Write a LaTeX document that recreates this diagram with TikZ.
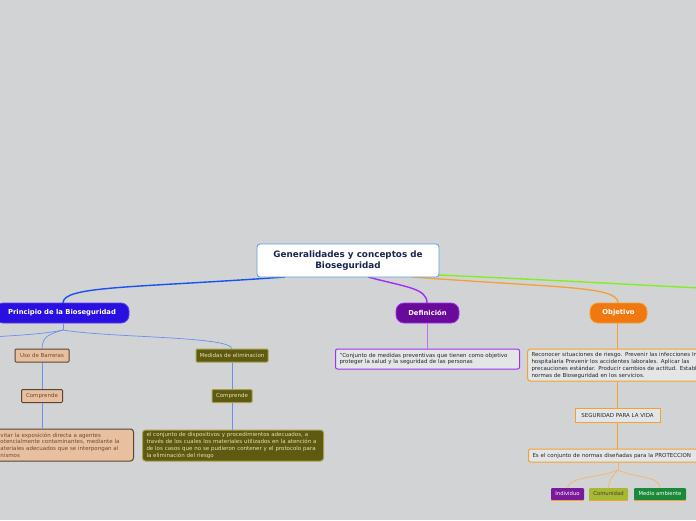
\documentclass[tikz,border=0pt]{standalone}
\usepackage{fontspec}
\setmainfont{DejaVu Sans}
\definecolor{bg}{HTML}{D2D3D5}
\definecolor{rootb}{HTML}{5A9BE0}
\definecolor{roott}{HTML}{1B2550}
\definecolor{princ}{HTML}{2A10E0}
\definecolor{defc}{HTML}{6A0A9A}
\definecolor{defb}{HTML}{A030F0}
\definecolor{objc}{HTML}{F07810}
\definecolor{objb}{HTML}{F5A030}
\definecolor{peach}{HTML}{E8C0A0}
\definecolor{peachb}{HTML}{5A4535}
\definecolor{peacht}{HTML}{6A4A35}
\definecolor{olive}{HTML}{5E5A12}
\definecolor{oliveb}{HTML}{A8A048}
\definecolor{olivet}{HTML}{E8E0B0}
\definecolor{bluel}{HTML}{1A50F0}
\definecolor{bluet}{HTML}{6A8FF0}
\definecolor{greenl}{HTML}{80F020}
\definecolor{indiv}{HTML}{7A1A9A}
\definecolor{comun}{HTML}{A8B830}
\definecolor{medio}{HTML}{1A8A3A}
\tikzset{
  rootbox/.style={draw=rootb, fill=white, line width=0.8pt, rounded corners=3pt, minimum width=182pt, minimum height=33pt, align=center, text=roott, font=\bfseries\fontsize{8.8}{10.5}\selectfont, inner sep=0pt},
  mainbox/.style={rounded corners=8pt, minimum height=20pt, text=white, font=\bfseries\fontsize{6.8}{8}\selectfont, inner sep=0pt, line width=0.8pt},
  smallbox/.style={minimum height=13pt, inner sep=0pt, rounded corners=1pt, line width=1pt, font=\fontsize{5.5}{6.5}\selectfont},
  peachbox/.style={fill=peach, draw=peachb, text=peacht},
  olivebox/.style={fill=olive, draw=oliveb, text=olivet},
  bigtext/.style={align=left, inner xsep=4pt, inner ysep=0pt, font=\fontsize{5.5}{6.7}\selectfont, line width=1pt},
  tagbox/.style={minimum height=12pt, inner sep=0pt, rounded corners=1pt, font=\fontsize{5.3}{6}\selectfont},
}
\begin{document}
\begin{tikzpicture}[x=1pt,y=-1pt]
\useasboundingbox (0,0) rectangle (696,520);
\fill[bg] (0,0) rectangle (696,520);

% connectors from root
\coordinate (rb1) at (285,277);
\coordinate (rb2) at (368,277);
\coordinate (rb3) at (412,277);
\coordinate (rb4) at (439,275);
\coordinate (gout) at (700,288);
\draw[bluel, line width=1.4pt] (rb1) .. controls (130,288) and (63,286) .. (63,303);
\draw[defb, line width=1.4pt] (rb2) .. controls (405,287) and (427,288) .. (427,303);
\draw[objb, line width=1.3pt] (rb3) .. controls (560,288) and (618,286) .. (618,303);
\draw[greenl, line width=1.4pt] (rb4) .. controls (550,280) and (640,285) .. (gout);

% root
\node[rootbox] (root) at (348,260.5) {Generalidades y conceptos de\\Bioseguridad};

% main branches
\node[mainbox, fill=princ, draw=princ!80!white, minimum width=134pt] (princ) at (62,313) {Principio de la Bioseguridad};
\node[mainbox, fill=defc, draw=defb, minimum width=63pt] (def) at (427.5,313) {Definición};
\node[mainbox, fill=objc, draw=objb, minimum width=57pt] (obj) at (618.5,313) {Objetivo};

% principio children connectors
\coordinate (pj) at (63,330);
\coordinate (pleft) at (-5,337);
\draw[bluet, line width=0.7pt] (princ.south -| pj) -- (pj);
\draw[bluet, line width=0.7pt] (pj) .. controls (40,335) and (0,336) .. (pleft);
\draw[bluet, line width=0.7pt] (pj) .. controls (50,334) and (42,336) .. (42,349);
\draw[bluet, line width=0.7pt] (pj) .. controls (110,338) and (232,336) .. (232,349);

\node[smallbox, peachbox, minimum width=54pt] (uso) at (42,355.5) {Uso de Barreras};
\node[smallbox, peachbox, minimum width=41pt] (comp1) at (42,396) {Comprende};
\node[bigtext, peachbox, rounded corners=3pt, text width=129pt, minimum height=32pt, anchor=east] (evit) at (134,445)
  {vitar la exposición directa a agentes\\otencialmente contaminantes, mediante la\\ateriales adecuados que se interpongan al\\nismos};

\node[smallbox, olivebox, minimum width=72pt] (med) at (232,355.5) {Medidas de eliminacion};
\node[smallbox, olivebox, minimum width=40pt] (comp2) at (232,396) {Comprende};
\node[bigtext, olivebox, rounded corners=3pt, text width=173pt, minimum height=31pt, anchor=west] (conj) at (142,445.5)
  {el conjunto de dispositivos y procedimientos adecuados, a\\través de los cuales los materiales utilizados en la atención a\\de los casos que no se pudieron contener y el protocolo para\\la eliminación del riesgo};

\draw[bluet, line width=0.7pt] (uso) -- (comp1);
\draw[bluet, line width=0.7pt] (comp1) -- (comp1 |- evit.north);
\draw[bluet, line width=0.7pt] (med) -- (comp2);
\draw[bluet, line width=0.7pt] (comp2) -- (conj.north -| comp2);

% definicion child
\node[bigtext, draw=defb, fill=bg!60!white, rounded corners=2pt, text width=176pt, minimum height=20pt, anchor=west, text=black!85] (defch) at (335,359)
  {"Conjunto de medidas preventivas que tienen como objetivo\\proteger la salud y la seguridad de las personas};
\draw[defb!70!white, line width=0.7pt] (def) -- (def |- defch.north);

% objetivo children
\node[bigtext, draw=objb, fill=bg!60!white, rounded corners=3pt, text width=210pt, minimum height=32pt, anchor=west, text=black!85, font=\fontsize{5.5}{7}\selectfont] (objch) at (527,365)
  {Reconocer situaciones de riesgo. Prevenir las infecciones In\\hospitalaria Prevenir los accidentes laborales. Aplicar las\\precauciones estándar. Producir cambios de actitud. Estable\\normas de Bioseguridad en los servicios.};
\node[smallbox, draw=objb, fill=bg!60!white, minimum width=85pt, minimum height=14pt, rounded corners=0pt, text=black!85] (seg) at (617.5,415) {SEGURIDAD PARA LA VIDA};
\node[bigtext, draw=objb, fill=bg!60!white, rounded corners=2pt, text width=200pt, minimum height=13pt, anchor=west, text=black!85] (normas) at (528,455.5)
  {Es el conjunto de normas diseñadas para la PROTECCION};
\draw[objb, line width=0.7pt] (obj.south -| seg) -- (objch.north -| seg);
\draw[objb, line width=0.7pt] (objch.south -| seg) -- (seg);
\draw[objb, line width=0.7pt] (seg) -- (normas.north -| seg);

\node[tagbox, fill=indiv, text=white, minimum width=33pt] (ind) at (567.5,494) {Individuo};
\node[tagbox, fill=comun, text=black!75, minimum width=39pt] (com) at (608.5,494) {Comunidad};
\node[tagbox, fill=medio, text=white, minimum width=52pt] (med2) at (660,494) {Medio ambiente};
\foreach \n in {ind,com,med2}{
  \draw[objb, line width=1pt] (\n.south west) -- (\n.south east);
}
\coordinate (nj) at (618,470);
\draw[objb!80!white, line width=0.6pt] (normas.south -| nj) -- (nj);
\draw[objb!80!white, line width=0.6pt] (nj) .. controls (600,478) and (570,476) .. (ind.north);
\draw[objb!80!white, line width=0.6pt] (nj) .. controls (612,476) and (609,480) .. (com.north);
\draw[objb!80!white, line width=0.6pt] (nj) .. controls (635,478) and (660,476) .. (med2.north);
\end{tikzpicture}
\end{document}
